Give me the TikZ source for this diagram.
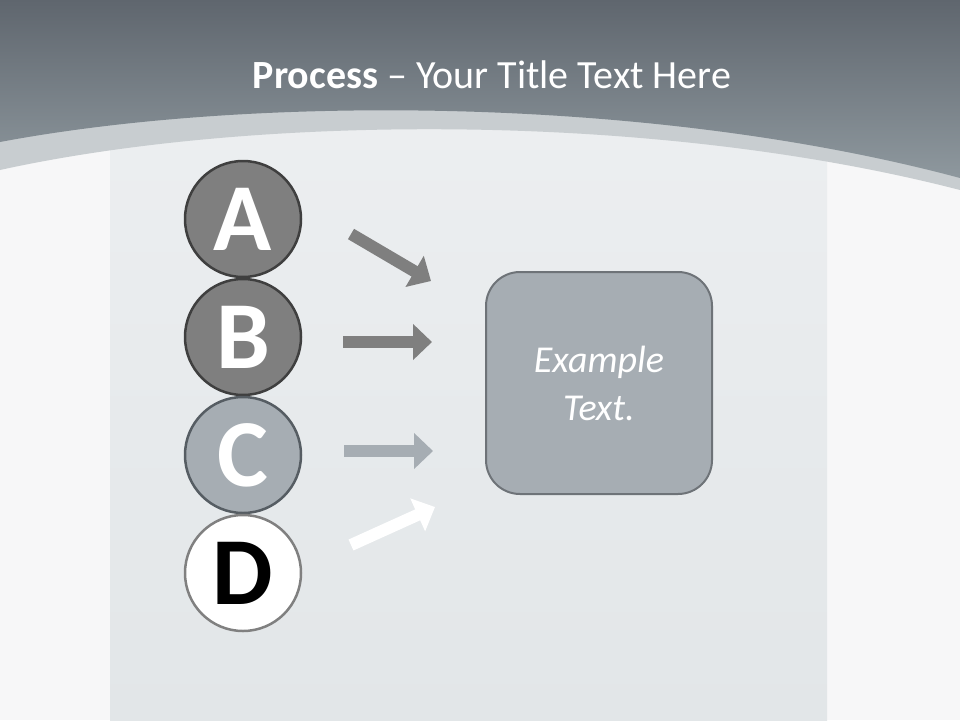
\documentclass[tikz,border=0pt]{standalone}
\usepackage{fontspec}
\setmainfont{Carlito}
\usetikzlibrary{arrows.meta}

\definecolor{pagebg}{HTML}{F7F7F8}
\definecolor{panelt}{HTML}{EEF0F2}
\definecolor{panelb}{HTML}{E2E6E8}
\definecolor{band}{HTML}{C8CDD0}
\definecolor{headtop}{HTML}{5F666E}
\definecolor{headbot}{HTML}{8E989E}
\definecolor{darkfill}{HTML}{7F7F7F}
\definecolor{darkline}{HTML}{3F3F3F}
\definecolor{lightfill}{HTML}{A6ADB3}
\definecolor{lightline}{HTML}{565D63}
\definecolor{whiteline}{HTML}{808080}
\definecolor{boxline}{HTML}{6E7378}

\begin{document}
\begin{tikzpicture}[x=1pt,y=-1pt,node distance=118pt]
        \tikzstyle{letter} = [circle, minimum size=116pt, inner sep=0pt, line width=2.5pt, font=\fontsize{96}{96}\selectfont\bfseries]
        \tikzstyle{result} = [rectangle, rounded corners=34pt, minimum width=226pt, minimum height=222pt, align=center, draw=boxline, line width=2pt, fill=lightfill, text=white, font=\fontsize{38}{48}\selectfont\itshape]
        \tikzstyle{arrow} = [line width=12pt, -{Triangle[length=19pt,width=35pt]}]
        
        % slide background
        \useasboundingbox (0,0) rectangle (960,720);
        \fill[pagebg] (0,0) rectangle (960,720);
        \shade[top color=panelt, bottom color=panelb] (110,0) rectangle (827,720);
        \fill[band] (0,0) -- (0,170) .. controls (250,115) and (650,110) .. (960,190) -- (960,0) -- cycle;
        \shade[top color=headtop, bottom color=headbot] (0,0) -- (0,142) .. controls (250,95) and (650,95) .. (960,178) -- (960,0) -- cycle;
        
        \node (title) [text=white, font=\fontsize{40}{48}\selectfont] at (492,75) {\textbf{Process} – Your Title Text Here};
        
        \node (A) [letter, fill=darkfill, draw=darkline, text=white] at (243,219) {A};
        \node (B) [letter, fill=darkfill, draw=darkline, text=white, below of=A] {B};
        \node (C) [letter, fill=lightfill, draw=lightline, text=white, below of=B] {C};
        \node (D) [letter, fill=white, draw=whiteline, text=black, below of=C] {D};
        
        \node (example) [result] at (599,383) {Example\\Text.};
        
        \coordinate (a1) at (351,234);
        \coordinate (a2) at (431,281);
        \coordinate (b1) at (343,342);
        \coordinate (b2) at (432,342);
        \coordinate (c1) at (344,451);
        \coordinate (c2) at (433,451);
        \coordinate (d1) at (351,545);
        \coordinate (d2) at (435,507);
        
        \draw [arrow, darkfill] (a1) -- (a2);
        \draw [arrow, darkfill] (b1) -- (b2);
        \draw [arrow, lightfill] (c1) -- (c2);
        \draw [arrow, white] (d1) -- (d2);
    \end{tikzpicture}
\end{document}
